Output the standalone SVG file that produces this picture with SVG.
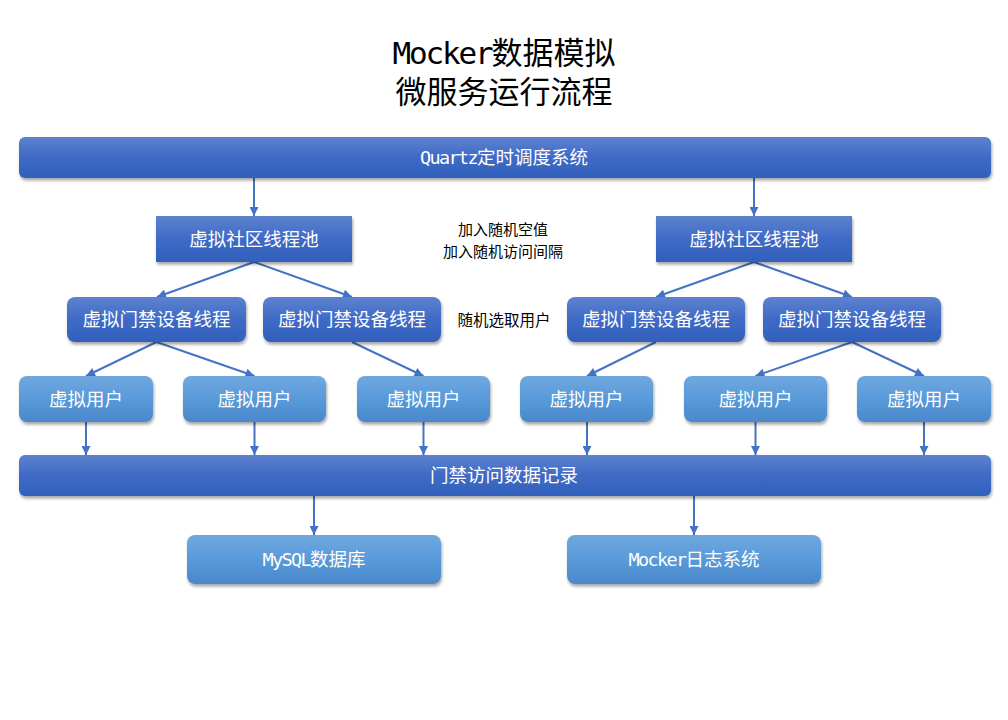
<svg xmlns="http://www.w3.org/2000/svg" width="1008" height="720" viewBox="0 0 1008 720">
<style>
.t{font-family:"DejaVu Sans Mono","Noto Sans CJK SC",monospace;fill:#fff;font-size:18.5px;text-anchor:middle}
.l{font-family:"Noto Sans CJK SC",sans-serif;fill:#000;font-size:15.5px;text-anchor:middle}
.ti{font-family:"DejaVu Sans Mono","Noto Sans CJK SC",monospace;fill:#000;font-size:31px;text-anchor:middle}
.lat{letter-spacing:-1.6px}
.dark{fill:url(#gd);filter:url(#sh)}
.light{fill:url(#gl);filter:url(#sh)}
.c{stroke:#4472c4;stroke-width:2;fill:none;marker-end:url(#ar)}
</style>
<defs>
<linearGradient id="gd" x1="0" y1="0" x2="0" y2="1">
<stop offset="0" stop-color="#5d82ce"/>
<stop offset="0.5" stop-color="#3f6ac6"/>
<stop offset="1" stop-color="#3060bb"/>
</linearGradient>
<linearGradient id="gl" x1="0" y1="0" x2="0" y2="1">
<stop offset="0" stop-color="#70a8de"/>
<stop offset="0.5" stop-color="#589ada"/>
<stop offset="1" stop-color="#4a88ca"/>
</linearGradient>
<filter id="sh" x="-10%" y="-20%" width="120%" height="150%">
<feDropShadow dx="1" dy="2.5" stdDeviation="1.6" flood-color="#000" flood-opacity="0.35"/>
</filter>
<marker id="ar" viewBox="0 0 10 10" refX="10" refY="5" markerWidth="10" markerHeight="9" markerUnits="userSpaceOnUse" orient="auto">
<path d="M0,0 L10,5 L0,10 z" fill="#4472c4"/>
</marker>
</defs>
<rect width="1008" height="720" fill="#fff"/>
<g id="title">
<text class="ti" x="504" y="64"><tspan letter-spacing="-2.2">Mocker</tspan>数据模拟<tspan x="504" dy="39">微服务运行流程</tspan></text>
</g>
<g id="connectors">
<line class="c" x1="254" y1="178" x2="254" y2="216"/>
<line class="c" x1="754" y1="178" x2="754" y2="216"/>
<line class="c" x1="254" y1="262" x2="157" y2="297"/>
<line class="c" x1="254" y1="262" x2="352" y2="297"/>
<line class="c" x1="754" y1="262" x2="656" y2="297"/>
<line class="c" x1="754" y1="262" x2="852" y2="297"/>
<line class="c" x1="156.5" y1="342" x2="86" y2="376"/>
<line class="c" x1="156.5" y1="342" x2="254.5" y2="376"/>
<line class="c" x1="352" y1="342" x2="423.5" y2="376"/>
<line class="c" x1="656" y1="342" x2="587" y2="376"/>
<line class="c" x1="852" y1="342" x2="755.5" y2="376"/>
<line class="c" x1="852" y1="342" x2="924" y2="376"/>
<line class="c" x1="86" y1="422" x2="86" y2="455"/>
<line class="c" x1="254.5" y1="422" x2="254.5" y2="455"/>
<line class="c" x1="423.5" y1="422" x2="423.5" y2="455"/>
<line class="c" x1="587" y1="422" x2="587" y2="455"/>
<line class="c" x1="755.5" y1="422" x2="755.5" y2="455"/>
<line class="c" x1="924" y1="422" x2="924" y2="455"/>
<line class="c" x1="314" y1="496" x2="314" y2="535"/>
<line class="c" x1="694" y1="496" x2="694" y2="535"/>
</g>
<g id="quartz">
<rect class="dark" x="19" y="137" width="972" height="41" rx="6"/>
<text class="t" x="504" y="164"><tspan class="lat">Quartz</tspan>定时调度系统</text>
</g>
<g id="pool-left">
<rect class="dark" x="156" y="216" width="196" height="46"/>
<text class="t" x="254" y="246">虚拟社区线程池</text>
</g>
<g id="pool-right">
<rect class="dark" x="656" y="216" width="196" height="46"/>
<text class="t" x="754" y="246">虚拟社区线程池</text>
</g>
<g id="label-random">
<text class="l" x="503" y="235" style="font-size:15px">加入随机空值</text>
<text class="l" x="503" y="257" style="font-size:15px">加入随机访问间隔</text>
</g>
<g id="device-1">
<rect class="dark" x="67" y="297" width="179" height="45" rx="8"/>
<text class="t" x="156.5" y="326">虚拟门禁设备线程</text>
</g>
<g id="device-2">
<rect class="dark" x="263" y="297" width="178" height="45" rx="8"/>
<text class="t" x="352" y="326">虚拟门禁设备线程</text>
</g>
<g id="label-select">
<text class="l" x="504" y="326">随机选取用户</text>
</g>
<g id="device-3">
<rect class="dark" x="567" y="297" width="178" height="45" rx="8"/>
<text class="t" x="656" y="326">虚拟门禁设备线程</text>
</g>
<g id="device-4">
<rect class="dark" x="763" y="297" width="178" height="45" rx="8"/>
<text class="t" x="852" y="326">虚拟门禁设备线程</text>
</g>
<g id="user-1">
<rect class="light" x="19" y="376" width="134" height="46" rx="8"/>
<text class="t" x="86" y="406">虚拟用户</text>
</g>
<g id="user-2">
<rect class="light" x="183" y="376" width="143" height="46" rx="8"/>
<text class="t" x="254.5" y="406">虚拟用户</text>
</g>
<g id="user-3">
<rect class="light" x="357" y="376" width="133" height="46" rx="8"/>
<text class="t" x="423.5" y="406">虚拟用户</text>
</g>
<g id="user-4">
<rect class="light" x="520" y="376" width="133" height="46" rx="8"/>
<text class="t" x="586.5" y="406">虚拟用户</text>
</g>
<g id="user-5">
<rect class="light" x="684" y="376" width="143" height="46" rx="8"/>
<text class="t" x="755.5" y="406">虚拟用户</text>
</g>
<g id="user-6">
<rect class="light" x="857" y="376" width="134" height="46" rx="8"/>
<text class="t" x="924" y="406">虚拟用户</text>
</g>
<g id="records">
<rect class="dark" x="19" y="455" width="972" height="41" rx="6"/>
<text class="t" x="504" y="482">门禁访问数据记录</text>
</g>
<g id="mysql">
<rect class="light" x="187" y="535" width="254" height="49" rx="8"/>
<text class="t" x="314" y="566"><tspan class="lat">MySQL</tspan>数据库</text>
</g>
<g id="mocker-log">
<rect class="light" x="567" y="535" width="254" height="49" rx="8"/>
<text class="t" x="694" y="566"><tspan class="lat">Mocker</tspan>日志系统</text>
</g>
</svg>
